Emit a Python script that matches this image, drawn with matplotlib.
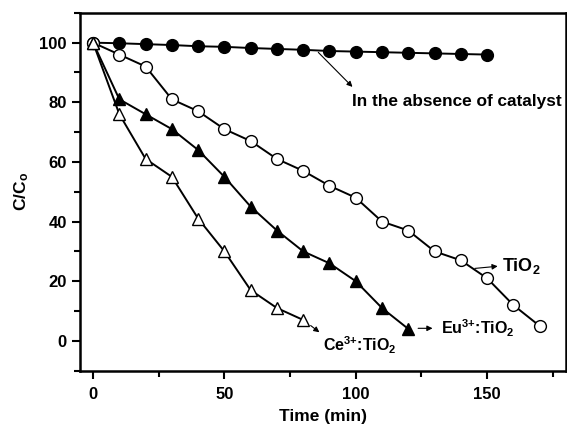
import matplotlib
matplotlib.use("Agg")
import matplotlib.pyplot as plt
from matplotlib.ticker import MultipleLocator

plt.rcParams['font.family'] = ['Liberation Sans', 'DejaVu Sans']
plt.rcParams['font.weight'] = 'bold'
plt.rcParams['mathtext.fontset'] = 'custom'
plt.rcParams['mathtext.rm'] = 'Liberation Sans:bold'
plt.rcParams['mathtext.bf'] = 'Liberation Sans:bold'
plt.rcParams['mathtext.default'] = 'bf'

# donnees
t_absence = [0, 10, 20, 30, 40, 50, 60, 70, 80, 90, 100, 110, 120, 130, 140, 150]
c_absence = [100, 99.8, 99.5, 99.2, 98.8, 98.6, 98.2, 97.9, 97.6, 97.2, 97.0, 96.8, 96.6, 96.4, 96.2, 96.0]

t_tio2 = [0, 10, 20, 30, 40, 50, 60, 70, 80, 90, 100, 110, 120, 130, 140, 150, 160, 170]
c_tio2 = [100, 96, 92, 81, 77, 71, 67, 61, 57, 52, 48, 40, 37, 30, 27, 21, 12, 5]

t_eu = [0, 10, 20, 30, 40, 50, 60, 70, 80, 90, 100, 110, 120]
c_eu = [100, 81, 76, 71, 64, 55, 45, 37, 30, 26, 20, 11, 4]

t_ce = [0, 10, 20, 30, 40, 50, 60, 70, 80]
c_ce = [100, 76, 61, 55, 41, 30, 17, 11, 7]

fig = plt.figure(figsize=(5.67, 4.28), dpi=100)
ax = fig.add_axes([0.141, 0.134, 0.857, 0.836])

ms = 8.5
ax.plot(t_absence, c_absence, color="black", lw=1.4, marker="o", ms=ms,
        mfc="black", mec="black", zorder=3)
ax.plot(t_tio2, c_tio2, color="black", lw=1.4, marker="o", ms=ms,
        mfc="white", mec="black", mew=1.0, zorder=3)
ax.plot(t_eu, c_eu, color="black", lw=1.4, marker="^", ms=ms + 0.5,
        mfc="black", mec="black", zorder=3)
ax.plot(t_ce, c_ce, color="black", lw=1.4, marker="^", ms=ms + 0.5,
        mfc="white", mec="black", mew=1.0, zorder=4)

arrow = dict(arrowstyle="-|>", color="black", lw=0.8, mutation_scale=8)
ax.annotate("", xy=(99.5, 84.5), xytext=(85, 97.4), arrowprops=arrow)
ax.text(98.5, 80.3, "In the absence of catalyst", fontsize=12.4,
        fontweight="bold", va="center", ha="left")

ax.annotate("", xy=(155.1, 25.1), xytext=(144.3, 24.2), arrowprops=arrow)
ax.text(155.6, 25, "TiO$_2$", fontsize=13, fontweight="bold",
        va="center", ha="left")

ax.annotate("", xy=(130.3, 4.2), xytext=(122.7, 4.2), arrowprops=arrow)
ax.text(132.6, 4.2, "Eu$^{3{+}}$:TiO$_2$", fontsize=11.5, fontweight="bold",
        va="center", ha="left")

ax.annotate("", xy=(87, 2.3), xytext=(82, 5.7), arrowprops=arrow)
ax.text(87.5, -1.6, "Ce$^{3{+}}$:TiO$_2$", fontsize=11.5, fontweight="bold",
        va="center", ha="left")

ax.set_xlim(-5, 180)
ax.set_ylim(-10, 110)
ax.xaxis.set_major_locator(MultipleLocator(50))
ax.xaxis.set_minor_locator(MultipleLocator(25))
ax.yaxis.set_major_locator(MultipleLocator(20))
ax.yaxis.set_minor_locator(MultipleLocator(10))
ax.tick_params(which="both", direction="out", width=1.5, labelsize=12)
ax.tick_params(which="major", length=6)
ax.tick_params(which="minor", length=4)
ax.tick_params(axis="x", pad=6)
for lab in ax.get_xticklabels() + ax.get_yticklabels():
    lab.set_fontweight("bold")
for sp in ax.spines.values():
    sp.set_linewidth(1.8)

ax.set_xlabel("Time (min)", fontsize=12.5, fontweight="bold", labelpad=5)
ax.set_ylabel("C/C$_o$", fontsize=12.5, fontweight="bold", labelpad=6)

fig.savefig("out.png", dpi=100)
